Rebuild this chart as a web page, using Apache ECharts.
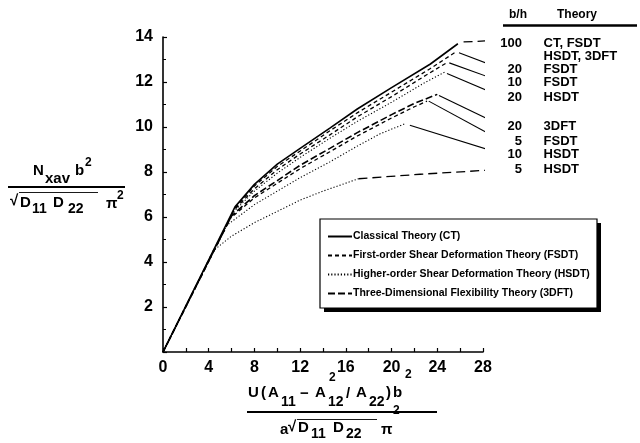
<!DOCTYPE html>
<html>
<head>
<meta charset="utf-8">
<script src="https://cdn.jsdelivr.net/npm/echarts@6/dist/echarts.min.js"></script>
<style>
  html, body { margin: 0; padding: 0; background: #fff; }
  #chart { width: 640px; height: 443px; }
</style>
</head>
<body>
<div id="chart"></div>
<script>
// Postbuckling response: average stress resultant vs. end shortening parameter
// b/h = 100 (CT, FSDT, HSDT and 3DFT coincide)
const x100 = [0, 6.3, 8, 10, 12, 14.6, 17, 20, 23.4, 25.8];
const y100 = [0, 6.45, 7.45, 8.35, 9.05, 9.95, 10.8, 11.75, 12.8, 13.7];
// b/h = 20, FSDT
const x20f = [0, 6.3, 8, 10, 12, 14.6, 17, 20, 23.4, 25.6];
const y20f = [0, 6.4, 7.38, 8.25, 8.93, 9.83, 10.63, 11.55, 12.6, 13.33];
// b/h = 10, FSDT
const x10f = [0, 6.2, 8, 10, 12, 14.6, 17, 20, 23, 24.9];
const y10f = [0, 6.3, 7.25, 8.1, 8.8, 9.65, 10.45, 11.35, 12.3, 12.88];
// b/h = 20, HSDT
const x20h = [0, 6.2, 8, 10, 12, 14.6, 17, 20, 23, 24.7];
const y20h = [0, 6.25, 7.15, 7.95, 8.65, 9.5, 10.25, 11.1, 12.0, 12.45];
// b/h = 20, 3DFT
const x20d = [0, 6.0, 8, 10, 12, 14.6, 17, 20, 22, 24.0];
const y20d = [0, 6.05, 6.95, 7.62, 8.3, 9.05, 9.75, 10.55, 11.05, 11.45];
// b/h = 5, FSDT
const x5f = [0, 5.9, 8, 10, 12, 14.6, 17, 20, 22, 23.1];
const y5f = [0, 5.95, 6.85, 7.5, 8.15, 8.9, 9.6, 10.4, 10.9, 11.15];
// b/h = 10, HSDT
const x10h = [0, 5.5, 8, 10, 12, 14.6, 17, 19, 21.2];
const y10h = [0, 5.6, 6.55, 7.15, 7.75, 8.45, 9.15, 9.7, 10.15];
// b/h = 5, HSDT
const x5h = [0, 4.4, 6, 8, 10, 12, 14, 17.1];
const y5h = [0, 4.5, 5.15, 5.75, 6.25, 6.75, 7.15, 7.7];
const x5hTail = [17.1, 22.5, 29.75];
const y5hTail = [7.7, 7.9, 8.12];

// Key column at the right: b/h value, theory, and vertical position (axis units)
const keyBh = ['100', '', '20', '10', '20', '20', '5', '10', '5'];
const keyTheory = ['CT, FSDT', 'HSDT, 3DFT', 'FSDT', 'FSDT', 'HSDT', '3DFT', 'FSDT', 'HSDT', 'HSDT'];
const keyY = [13.72, 13.14, 12.56, 11.99, 11.32, 10.03, 9.36, 8.79, 8.12];

// Leader lines from curve ends to the key rows
const leaderStartX = [26.3, 25.9, 25.05, 24.85, 24.15, 23.25, 21.6];
const leaderStartY = [13.78, 13.3, 12.85, 12.38, 11.4, 11.15, 10.08];
const leaderEndY = [13.86, 12.56, 11.99, 11.32, 10.03, 9.36, 8.79];
const leaderEndX = 29.75;

const xTicks = [0, 28, 4];   // min, max, labelled step
const yTicks = [0, 14, 2];

const NAME_CT = 'Classical Theory (CT)';
const NAME_FSDT = 'First-order Shear Deformation Theory (FSDT)';
const NAME_HSDT = 'Higher-order Shear Deformation Theory (HSDT)';
const NAME_3DFT = 'Three-Dimensional Flexibility Theory (3DFT)';

const FONT = 'Liberation Sans';
const styles = {
  ct:   { color: '#000', width: 1.6, type: 'solid' },
  fsdt: { color: '#000', width: 1.3, type: [4, 3] },
  hsdt: { color: '#000', width: 1.1, type: [1.2, 2] },
  d3ft: { color: '#000', width: 1.6, type: [7, 3] },
  tail: { color: '#000', width: 1.3, type: [9, 5] },
  lead: { color: '#000', width: 1.1, type: 'solid' }
};

function pts(xs, ys) { return xs.map((x, i) => [x, ys[i]]); }
function curve(name, xs, ys, style, z) {
  return {
    name: name, type: 'line', data: pts(xs, ys), symbol: 'none',
    lineStyle: style, itemStyle: { color: '#000' }, clip: false, silent: true,
    z: z || 2, animation: false
  };
}

const series = [
  curve(NAME_CT, x100, y100, styles.ct, 5),
  curve(NAME_FSDT, x20f, y20f, styles.fsdt),
  curve(NAME_HSDT, x20h, y20h, styles.hsdt),
  curve(NAME_3DFT, x20d, y20d, styles.d3ft),
  curve(NAME_FSDT, x10f, y10f, styles.fsdt),
  curve(NAME_FSDT, x5f, y5f, styles.fsdt),
  curve(NAME_HSDT, x10h, y10h, styles.hsdt),
  curve(NAME_HSDT, x5h, y5h, styles.hsdt),
  curve('tail5', x5hTail, y5hTail, styles.tail)
];
leaderStartX.forEach((sx, i) => {
  series.push(curve('leader' + i, [sx, leaderEndX], [leaderStartY[i], leaderEndY[i]],
    i === 0 ? styles.tail : styles.lead));
});

const chart = echarts.init(document.getElementById('chart'), null, { renderer: 'canvas' });

const axisCommon = {
  axisLine: { show: true, lineStyle: { color: '#000', width: 1.6 } },
  axisTick: { show: true, inside: true, length: 4, lineStyle: { color: '#000', width: 1.2 } },
  splitLine: { show: false },
  minorSplitLine: { show: false }
};

chart.setOption({
  animation: false,
  backgroundColor: '#fff',
  grid: { left: 163, top: 37, width: 320, height: 315 },
  xAxis: Object.assign({
    type: 'value', min: xTicks[0], max: xTicks[1], interval: xTicks[2] / 2,
    axisLabel: {
      color: '#000', fontFamily: FONT, fontWeight: 'bold', fontSize: 16, margin: 8,
      formatter: v => (v % xTicks[2] === 0 ? String(v) : '')
    },
    minorTick: { show: false }
  }, axisCommon),
  yAxis: Object.assign({
    type: 'value', min: yTicks[0], max: yTicks[1], interval: yTicks[2],
    axisLabel: {
      color: '#000', fontFamily: FONT, fontWeight: 'bold', fontSize: 16, margin: 10,
      formatter: v => (v === 0 ? '' : String(v))
    },
    minorTick: { show: true, splitNumber: 2, length: 3, lineStyle: { color: '#000', width: 1 } }
  }, axisCommon),
  legend: {
    data: [NAME_CT, NAME_FSDT, NAME_HSDT, NAME_3DFT],
    orient: 'vertical', left: 327, top: 231,
    itemWidth: 24, itemHeight: 12, itemGap: 8,
    padding: 0,
    itemStyle: { opacity: 0 },
    selectedMode: false,
    z: 10,
    textStyle: { color: '#000', fontFamily: FONT, fontWeight: 'bold', fontSize: 10.5, padding: [0, 0, 0, -4] }
  },
  series: series
});

// Axis titles built from positioned text pieces (sub/superscripts)
function piece(text, x, y, size, align) {
  return {
    type: 'text', x: x, y: y, silent: true,
    style: { text: text, fill: '#000', font: 'bold ' + size + 'px "' + FONT + '"', verticalAlign: 'middle', align: align || 'left' }
  };
}
function rule(x1, y1, x2, y2, w) {
  return { type: 'line', silent: true, shape: { x1: x1, y1: y1, x2: x2, y2: y2 }, style: { stroke: '#000', lineWidth: w } };
}

const graphics = [
  // legend frame with a hard drop shadow
  { type: 'rect', silent: true, z: 1, shape: { x: 324, y: 223, width: 277, height: 89 }, style: { fill: '#000' } },
  { type: 'rect', silent: true, z: 2, shape: { x: 320, y: 219, width: 277, height: 89 }, style: { fill: '#fff', stroke: '#000', lineWidth: 1.2 } },
  // y-axis title: N_xav b^2 / (sqrt(D11 D22) pi^2)
  piece('N', 33, 171, 15), piece('xav', 45, 179, 15), piece('b', 75, 171, 15), piece('2', 85, 163, 12),
  rule(8, 187, 125, 187, 1.8),
  piece('\u221A', 10, 201, 15), rule(19, 192.5, 98, 192.5, 0.9),
  piece('D', 20, 203, 15), piece('11', 32, 209, 14), piece('D', 53, 203, 15), piece('22', 68, 209, 14),
  piece('\u03C0', 106, 204, 15), piece('2', 117, 196, 12),
  // x-axis title: U (A11 - A12^2 / A22) b^2 / (a sqrt(D11 D22) pi^2)
  piece('U', 248, 393, 15), piece('(', 261, 393, 15), piece('A', 268, 393, 15), piece('11', 281, 402, 14),
  piece('\u2212', 300, 394, 15), piece('A', 315, 393, 15), piece('2', 329, 378, 12), piece('12', 328, 402, 14),
  piece('/', 346, 394, 15), piece('A', 356, 393, 15), piece('22', 369, 402, 14), piece(')', 386, 393, 15),
  piece('b', 393, 393, 15), piece('2', 405, 375, 12),
  rule(247, 412, 437, 412, 1.8),
  piece('a', 280, 430, 15), piece('\u221A', 288, 427, 15), rule(297, 419.5, 377, 419.5, 0.9),
  piece('D', 298, 428, 15), piece('11', 311, 434, 14), piece('D', 333, 428, 15), piece('22', 346, 434, 14),
  piece('\u03C0', 381, 430, 15), piece('2', 393, 411, 12),
  // key header
  piece('b/h', 509, 15, 12), piece('Theory', 557, 15, 12),
  rule(503, 25.5, 637, 25.5, 2.4)
];

keyY.forEach((yv, i) => {
  const p = chart.convertToPixel({ gridIndex: 0 }, [31.4, yv]);
  const q = chart.convertToPixel({ gridIndex: 0 }, [33.3, yv]);
  if (keyBh[i]) graphics.push(piece(keyBh[i], p[0], p[1], 13, 'right'));
  graphics.push(piece(keyTheory[i], q[0], q[1], 13));
});

chart.setOption({ graphic: graphics });
</script>
</body>
</html>
